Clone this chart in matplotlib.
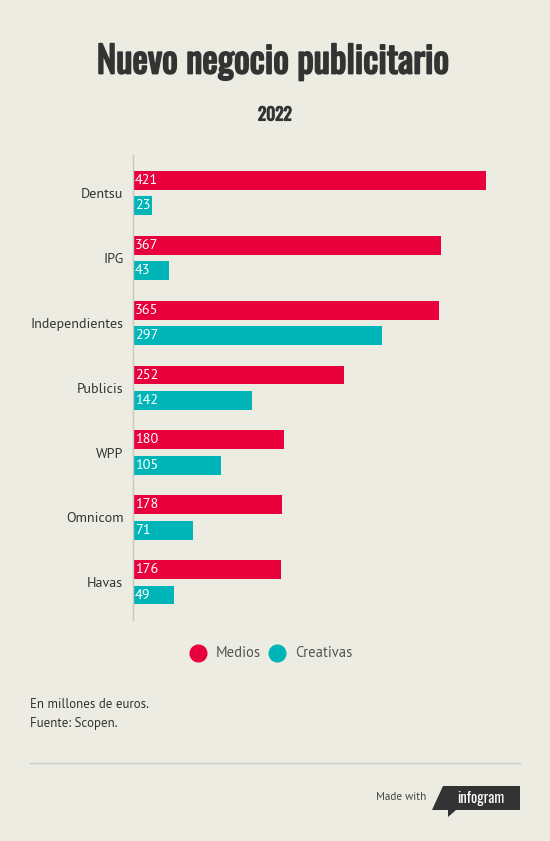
import matplotlib.pyplot as plt
import matplotlib.patheffects as pe
from matplotlib.lines import Line2D
from matplotlib.patches import Polygon
import numpy as np

categories = ["Dentsu", "IPG", "Independientes", "Publicis", "WPP", "Omnicom", "Havas"]
medios = [421, 367, 365, 252, 180, 178, 176]
creativas = [23, 43, 297, 142, 105, 71, 49]
series_names = ["Medios", "Creativas"]

BG = "#edece2"
RED = "#e8003d"
TEAL = "#00b5b8"
W, H = 550, 841
BODY = "PT Sans"
HEAD = "Oswald"

fig = plt.figure(figsize=(W / 100, H / 100), dpi=100, facecolor=BG)

# ejes: spine izquierdo en x=133, de y=155 a y=620 (px)
ax = fig.add_axes([133 / W, (H - 620) / H, (520 - 133) / W, 465 / H])
ax.set_facecolor(BG)

y = np.arange(len(categories))
off = 0.195
bh = 0.29
ax.barh(y - off, medios, height=bh, color=RED)
ax.barh(y + off, creativas, height=bh, color=TEAL)

for i in range(len(categories)):
    ax.text(2, y[i] - off, str(medios[i]), color="white", va="center", ha="left",
            fontsize=10.3, family=BODY)
    ax.text(2, y[i] + off, str(creativas[i]), color="white", va="center", ha="left",
            fontsize=10.3, family=BODY)

ax.set_xlim(0, 421 * 387 / 353)
ax.set_ylim(len(categories) - 0.42, -0.585)
ax.set_yticks(y)
ax.set_yticklabels(categories, fontsize=10.1, color="#333333", family=BODY)
ax.tick_params(axis="y", length=0, pad=7)
ax.set_xticks([])
for s in ["top", "right", "bottom"]:
    ax.spines[s].set_visible(False)
ax.spines["left"].set_color("#c8c8c0")
ax.spines["left"].set_linewidth(1)

# titulo (Oswald solo en peso normal: se engrosa con un trazo)
fig.text(273 / W, 1 - 62 / H, "Nuevo negocio publicitario", ha="center", va="center",
         fontsize=26.5, color="#333333", family=HEAD,
         path_effects=[pe.withStroke(linewidth=1.3, foreground="#333333")])
fig.text(275 / W, 1 - 115 / H, "2022", ha="center", va="center",
         fontsize=12.5, color="#333333", family=HEAD,
         path_effects=[pe.withStroke(linewidth=0.8, foreground="#333333")])

# leyenda
for cx, color, tx, name in [(198, RED, 216, series_names[0]), (277, TEAL, 295, series_names[1])]:
    fig.add_artist(Line2D([cx / W], [1 - 653 / H], marker="o", markersize=12,
                          color=color, linestyle="none", transform=fig.transFigure))
    fig.text(tx / W, 1 - 653 / H, name, va="center", fontsize=10.5,
             color="#555555", family=BODY)

# notas
fig.text(30 / W, 1 - 705 / H, "En millones de euros.", va="center", fontsize=9.3,
         color="#333333", family=BODY)
fig.text(30 / W, 1 - 724 / H, "Fuente: Scopen.", va="center", fontsize=9.3,
         color="#333333", family=BODY)

fig.add_artist(Line2D([30 / W, 520 / W], [1 - 763 / H, 1 - 763 / H], color="#cccccc",
                      linewidth=1, transform=fig.transFigure))

fig.text(376 / W, 1 - 797 / H, "Made with", va="center", fontsize=8,
         color="#444444", family=BODY)
badge = [(443, 786), (520, 786), (520, 810), (456, 810), (448, 817), (448, 810), (432, 810)]
fig.patches.append(Polygon([(px / W, 1 - py / H) for px, py in badge], closed=True,
                           facecolor="#333333", transform=fig.transFigure))
fig.text(481 / W, 1 - 798 / H, "infogram", ha="center", va="center", fontsize=10.5,
         color="white", family=HEAD)

fig.savefig("out.png", dpi=100, facecolor=BG)
